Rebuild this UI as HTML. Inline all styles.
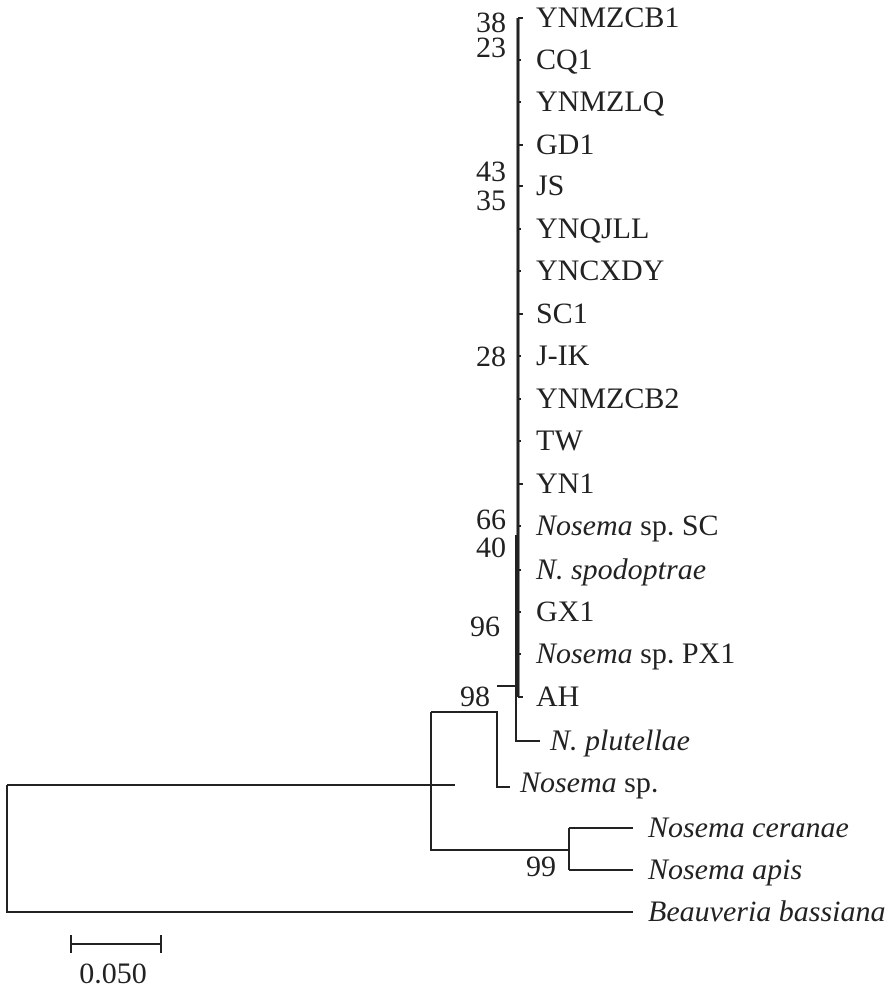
<!DOCTYPE html>
<html><head><style>body{margin:0;background:#fff}</style></head><body>
<svg width="893" height="992" xmlns="http://www.w3.org/2000/svg" font-family="Liberation Serif, serif" font-size="30" fill="#222">
<g stroke="#222" stroke-width="2" fill="none">
<path d="M7 785V912H633"/>
<path d="M7 785H455"/>
<path d="M431 712V850H569"/>
<path d="M569 828V870M569 828H633M569 870H633"/>
<path d="M431 712H497V787H510"/>
<path d="M497 686H516"/>
<path d="M516 535V741H540"/>
<path d="M518 18V697" stroke-width="3"/>
<path d="M518 18H523M518 145H523M518 186H523M518 314H523M518 484H523M518 697H523"/>
<path d="M518 60H521M518 102H521M518 229H521M518 271H521M518 356H521M518 399H521M518 441H521M518 526H521M518 570H521M518 612H521M518 654H521"/>
<path d="M71 944H161M71 935V953M161 935V953"/>
</g>
<g>
<text x="536" y="27">YNMZCB1</text>
<text x="536" y="69">CQ1</text>
<text x="536" y="111">YNMZLQ</text>
<text x="536" y="154">GD1</text>
<text x="536" y="195">JS</text>
<text x="536" y="238">YNQJLL</text>
<text x="536" y="280">YNCXDY</text>
<text x="536" y="323">SC1</text>
<text x="536" y="365">J-IK</text>
<text x="536" y="408">YNMZCB2</text>
<text x="536" y="450">TW</text>
<text x="536" y="493">YN1</text>
<text x="536" y="535"><tspan font-style="italic">Nosema</tspan> sp. SC</text>
<text x="536" y="579" font-style="italic">N. spodoptrae</text>
<text x="536" y="621">GX1</text>
<text x="536" y="663"><tspan font-style="italic">Nosema</tspan> sp. PX1</text>
<text x="536" y="706">AH</text>
<text x="550" y="750" font-style="italic">N. plutellae</text>
<text x="520" y="792"><tspan font-style="italic">Nosema</tspan> sp.</text>
<text x="648" y="837" font-style="italic">Nosema ceranae</text>
<text x="648" y="879" font-style="italic">Nosema apis</text>
<text x="648" y="921" font-style="italic">Beauveria bassiana</text>
</g>
<g text-anchor="end">
<text x="506" y="32">38</text>
<text x="506" y="57">23</text>
<text x="506" y="181">43</text>
<text x="506" y="210">35</text>
<text x="506" y="366">28</text>
<text x="506" y="529">66</text>
<text x="506" y="557">40</text>
<text x="500" y="636">96</text>
<text x="490" y="706">98</text>
<text x="556" y="876">99</text>
</g>
<text x="113" y="983" text-anchor="middle">0.050</text>
</svg>
</body></html>
